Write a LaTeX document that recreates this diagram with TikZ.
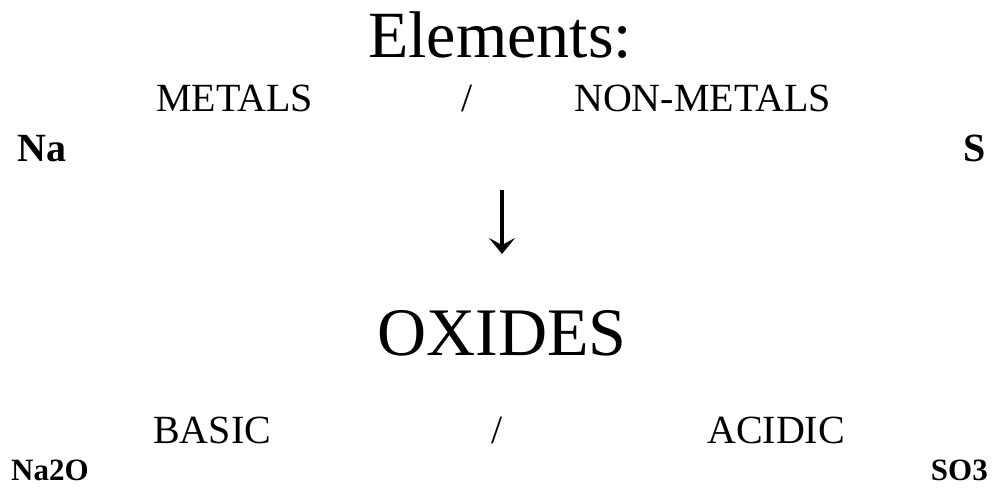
\documentclass[tikz,border=0pt]{standalone}
\usepackage{fontspec}
\setmainfont{Liberation Serif}
\usetikzlibrary{arrows.meta, positioning}
\tikzset{
  heading/.style={inner sep=0pt, font=\fontsize{66}{70}\selectfont},
  group/.style={inner sep=0pt, font=\fontsize{40}{44}\selectfont},
  sample/.style={inner sep=0pt, font=\bfseries\fontsize{40}{44}\selectfont},
  formula/.style={inner sep=0pt, font=\bfseries\fontsize{31}{35}\selectfont},
  reacts/.style={-{Stealth[length=16pt, width=26pt, inset=7pt]}, line width=3.2pt},
}

\begin{document}
\begin{tikzpicture}[x=1pt, y=-1pt]
  \useasboundingbox (0,0) rectangle (992,487);

  % Elements
  \node[heading, anchor=base] (elements) at (500,58) {Elements:};
  \node[group, anchor=base west] (metals) at (156,111) {METALS};
  \node[group, anchor=base] (slashA) at (467,111) {/};
  \node[group, anchor=base west] (nonmetals) at (574,111) {NON-METALS};
  \node[sample, anchor=base west] (na) at (17,161) {Na};
  \node[sample, anchor=base east] (s) at (986,161) {S};

  % Arrow
  \coordinate (arrtop) at (502,190);
  \coordinate (arrbot) at (502,254);
  \draw[reacts] (arrtop) -- (arrbot);

  % Oxides
  \node[heading, font=\fontsize{68}{72}\selectfont, anchor=base] (oxides) at (502,355) {OXIDES};
  \node[group, anchor=base west] (basic) at (153,443) {BASIC};
  \node[group, anchor=base] (slashB) at (497,443) {/};
  \node[group, anchor=base west] (acidic) at (707,443) {ACIDIC};
  \node[formula, anchor=base west] (naoxide) at (11,480) {Na2O};
  \node[formula, anchor=base east] (soxide) at (988,480) {SO3};
\end{tikzpicture}
\end{document}
